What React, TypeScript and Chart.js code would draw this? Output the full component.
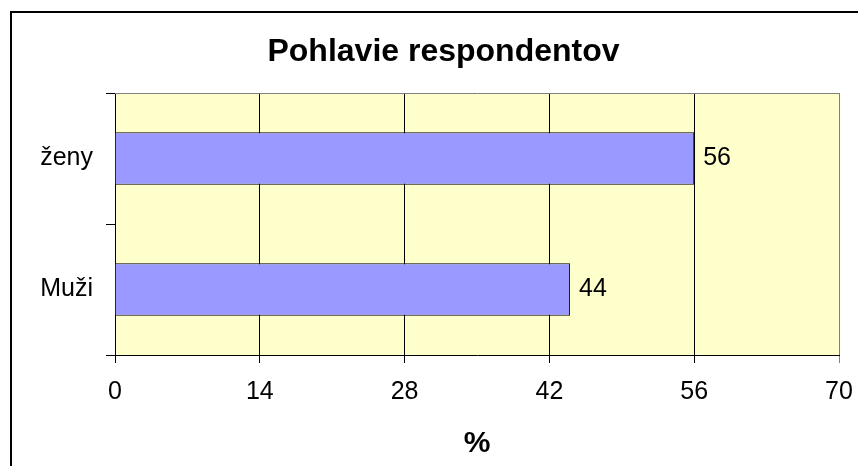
import React, { useEffect, useRef } from "react";
import { Chart, registerables } from "chart.js";

Chart.register(...registerables);

const categories: string[] = ["ženy", "Muži"];
const values: number[] = [56, 44];
const xTicks: number[] = [0, 14, 28, 42, 56, 70];
const chartTitle = "Pohlavie respondentov";
const xAxisTitle = "%";

const FONT = "'Liberation Sans', Arial, sans-serif";

const framePlugin = {
  id: "framePlugin",
  beforeDraw(chart: any) {
    const { ctx, chartArea } = chart;
    ctx.save();
    ctx.fillStyle = "#ffffff";
    ctx.fillRect(0, 0, chart.width, chart.height);
    ctx.strokeStyle = "#000000";
    ctx.lineWidth = 2;
    ctx.strokeRect(11, 12, 1000, 1000);
    ctx.fillStyle = "#FFFFCC";
    ctx.fillRect(chartArea.left, chartArea.top, chartArea.right - chartArea.left, chartArea.bottom - chartArea.top);
    // chart title
    ctx.fillStyle = "#000000";
    ctx.font = `bold 32px ${FONT}`;
    ctx.textAlign = "center";
    ctx.textBaseline = "alphabetic";
    ctx.fillText(chartTitle, 443.5, 61);
    ctx.restore();
  },
  beforeDatasetsDraw(chart: any) {
    const { ctx, chartArea } = chart;
    ctx.save();
    ctx.strokeStyle = "#808080";
    ctx.lineWidth = 1;
    ctx.beginPath();
    ctx.moveTo(chartArea.left, Math.round(chartArea.top) + 0.5);
    ctx.lineTo(chartArea.right + 1, Math.round(chartArea.top) + 0.5);
    ctx.stroke();
    ctx.restore();
  },
  afterDatasetsDraw(chart: any) {
    const { ctx } = chart;
    const meta = chart.getDatasetMeta(0);
    ctx.save();
    ctx.fillStyle = "#000000";
    ctx.font = `25px ${FONT}`;
    ctx.textAlign = "left";
    ctx.textBaseline = "middle";
    meta.data.forEach((bar: any, i: number) => {
      ctx.fillText(String(values[i]), bar.x + 9, bar.y);
    });
    ctx.restore();
  },
};

export default function App() {
  const ref = useRef<HTMLCanvasElement | null>(null);
  useEffect(() => {
    if (!ref.current) return;
    const chart = new Chart(ref.current, {
      type: "bar",
      data: {
        labels: categories,
        datasets: [
          {
            data: values,
            backgroundColor: "#9999FF",
            borderColor: "#000000",
            borderWidth: 1,
            barPercentage: 0.4,
            categoryPercentage: 1,
          },
        ],
      },
      options: {
        indexAxis: "y",
        responsive: false,
        animation: false,
        devicePixelRatio: 1,
        layout: { padding: { left: 0, right: 19, top: 93, bottom: 0 } },
        plugins: {
          legend: { display: false },
          tooltip: { enabled: false },
          title: { display: false },
        },
        scales: {
          x: {
            type: "linear",
            min: 0,
            max: 70,
            afterBuildTicks: (scale: any) => {
              scale.ticks = xTicks.map((v) => ({ value: v }));
            },
            afterFit: (scale: any) => {
              scale.height = 111;
            },
            ticks: {
              color: "#000000",
              font: { family: FONT, size: 25, lineHeight: 1.9 },
              padding: 5,
              maxRotation: 0,
            },
            grid: {
              color: (ctx: any) => (ctx.tick && ctx.tick.value === 70 ? "#808080" : "#000000"),
              lineWidth: 1,
              tickLength: 8,
              drawTicks: true,
            },
            border: { color: "#000000", width: 1 },
            title: {
              display: true,
              text: xAxisTitle,
              color: "#000000",
              font: { family: FONT, size: 30, weight: "bold", lineHeight: 1.2 },
              padding: { top: 0, bottom: 4 },
            },
          },
          y: {
            type: "category",
            afterFit: (scale: any) => {
              scale.width = 115;
            },
            ticks: {
              color: "#000000",
              font: { family: FONT, size: 25 },
              padding: 13,
            },
            grid: {
              offset: true,
              drawOnChartArea: false,
              drawTicks: true,
              tickLength: 9,
              color: "#000000",
            },
            border: { color: "#000000", width: 1 },
          },
        },
      },
      plugins: [framePlugin],
    } as any);
    return () => chart.destroy();
  }, []);
  return (
    <div style={{ position: "fixed", left: 0, top: 0, width: 858, height: 466, background: "#fff" }}>
      <canvas ref={ref} width={858} height={466} style={{ display: "block" }} />
    </div>
  );
}
